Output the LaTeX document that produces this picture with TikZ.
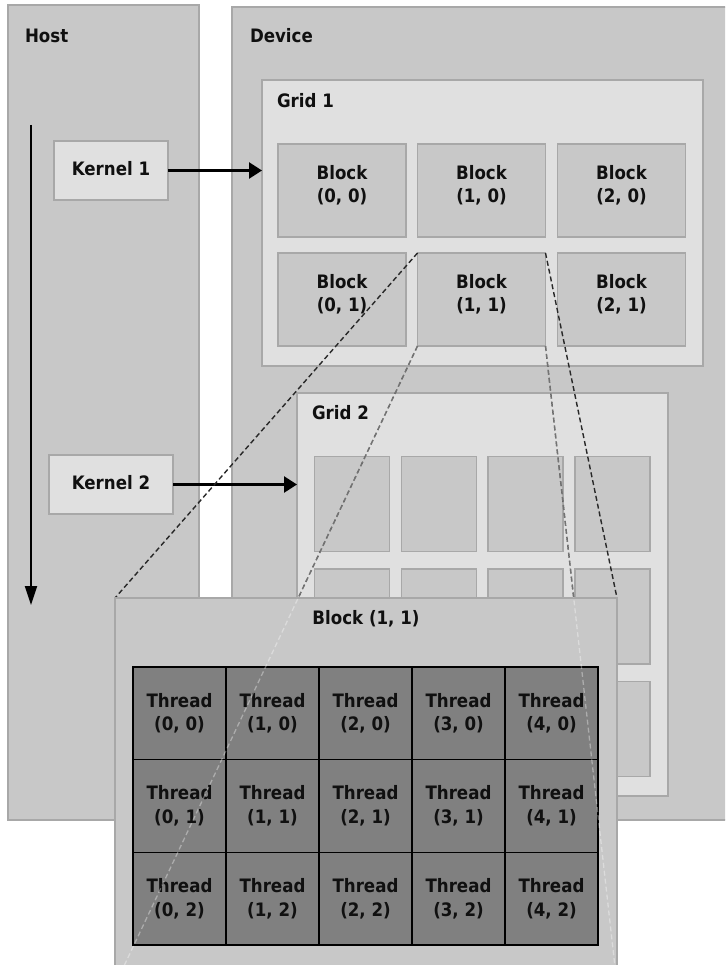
\documentclass[tikz,border=0pt]{standalone}
\usepackage{fontspec}
\setmainfont{DejaVu Sans}[FakeStretch=0.9]
\usetikzlibrary{arrows.meta}
\definecolor{panelgray}{HTML}{C8C8C8}
\definecolor{lightpanel}{HTML}{E0E0E0}
\definecolor{edgegray}{HTML}{A8A8A8}
\definecolor{threadgray}{HTML}{808080}
\definecolor{txt}{HTML}{101010}
\definecolor{dashgray}{HTML}{282828}
\begin{document}
\begin{tikzpicture}[x=1pt,y=-1pt,
  every node/.style={inner sep=0pt,outer sep=0pt,text=txt,
    font=\fontsize{18.5}{23.5}\selectfont\bfseries},
  darkbox/.style 2 args={draw=edgegray,line width=1.3pt,fill=panelgray,
    minimum width=#1pt,minimum height=#2pt},
  lightbox/.style 2 args={draw=edgegray,line width=1.3pt,fill=lightpanel,
    minimum width=#1pt,minimum height=#2pt},
  threadcell/.style={draw=black,line width=1.5pt,fill=threadgray,
    minimum width=93pt,minimum height=92.67pt,align=center},
  lbl/.style={align=center},
  dashline/.style={draw=dashgray,line width=1.4pt,dash pattern=on 5pt off 3pt},
  faintline/.style={draw=white,opacity=0.35,line width=1.3pt,dash pattern=on 5pt off 3pt},
  bigarrow/.style={draw=black,line width=2.5pt,-{Triangle[length=13pt,width=16pt]}},
  timearrow/.style={draw=black,line width=1.8pt,-{Triangle[length=19pt,width=12pt]}}
]
\useasboundingbox (0,0) rectangle (725,965);
\clip (0,0) rectangle (725,965);
\fill[white] (0,0) rectangle (725,965);

% Host and Device panels
\node[darkbox={191}{815}] (host) at (103.5,412.5) {};
\node[anchor=west] (hostlbl) at (25,36) {Host};
\node[darkbox={496}{813}] (device) at (480,413.5) {};
\node[anchor=west] (devlbl) at (250,36) {Device};

% time arrow
\coordinate (ta) at (31,125);
\coordinate (tb) at (31,605);
\draw[timearrow] (ta) -- (tb);

% Grid 1
\node[lightbox={441}{286}] (grid1) at (482.5,223) {};
\node[anchor=west] (g1lbl) at (277,101) {Grid 1};
\foreach \i/\x in {0/342,1/481.5,2/621.5}{
  \foreach \j/\y in {0/190.5,1/299.5}{
    \node[darkbox={128}{93}] (g1b\i\j) at (\x,\y) {};
    \node[lbl] (g1l\i\j) at (\x,\y-5) {Block\\(\i, \j)};
  }
}

% Kernels
\node[lightbox={114}{59}] (kernel1) at (111,170.5) {};
\node (k1lbl) at (111,169) {Kernel 1};
\node[lightbox={124}{59}] (kernel2) at (111,484.5) {};
\node (k2lbl) at (111,483) {Kernel 2};
\draw[bigarrow] (kernel1.east) -- (kernel1.east -| grid1.west);

% Grid 2
\node[lightbox={371}{403}] (grid2) at (482.5,594.5) {};
\node[anchor=west] (g2lbl) at (312,413) {Grid 2};
\foreach \i/\x in {0/352,1/439,2/525.5,3/612.5}{
  \foreach \j/\y in {0/504,1/616.5,2/729}{
    \node[darkbox={75}{95}] (g2b\i\j) at (\x,\y) {};
  }
}
\draw[bigarrow] (kernel2.east) -- (kernel2.east -| grid2.west);

% Block (1,1) panel outline reference (for the zoom lines)
\node[darkbox={502}{387}] (blk) at (366,791.5) {};

% dashed zoom lines
\draw[dashline] (g1b11.north west) -- (blk.north west);
\draw[dashline] (g1b11.north east) -- (blk.north east);
\draw[dashline] (g1b11.south west) -- (blk.south west);
\draw[dashline] (g1b11.south east) -- (blk.south east);

% redraw panel on top
\node[darkbox={502}{387}] (blk2) at (366,791.5) {};
\node (blklbl) at (366,619) {Block (1, 1)};

% threads
\foreach \i in {0,...,4}{
  \foreach \j in {0,...,2}{
    \node[threadcell] (t\i\j) at ({179.5+93*\i},{713.33+92.67*\j}) {Thread\\(\i, \j)};
  }
}
\draw[black,line width=2pt] (t00.north west) rectangle (t42.south east);

% faint continuation of the hidden lines
\draw[faintline] (g1b11.south west) -- (blk.south west);
\draw[faintline] (g1b11.south east) -- (blk.south east);
\end{tikzpicture}
\end{document}
